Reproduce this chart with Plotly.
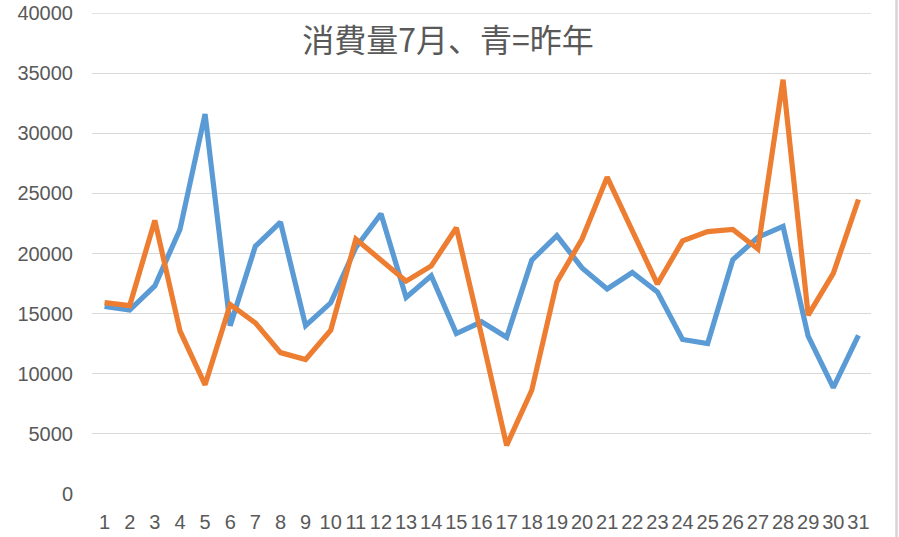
import plotly.graph_objects as go

days = list(range(1, 32))
tick_labels = [str(d) for d in days]

last_year = [15600, 15300, 17300, 22000, 31600, 14000, 20600, 22600, 14000, 15900,
             20500, 23300, 16350, 18150, 13340, 14320, 13040, 19450, 21480, 18800,
             17050, 18420, 16810, 12850, 12510, 19480, 21350, 22250, 13120, 8850, 13200]

this_year = [15920, 15670, 22750, 13560, 9080, 15760, 14230, 11760, 11180, 13620,
             21200, 19400, 17700, 18970, 22140, 13200, 4050, 8630, 17640, 21200,
             26350, 21900, 17460, 21050, 21820, 22000, 20380, 34450, 14870, 18340, 24490]

y_ticks = [0, 5000, 10000, 15000, 20000, 25000, 30000, 35000, 40000]

title_text = "消費量7月、青=昨年"

W, H = 899, 537

fig = go.Figure()
fig.add_trace(go.Scatter(x=days, y=last_year, mode="lines", name="昨年",
                         line=dict(color="#5B9BD5", width=5.2)))
fig.add_trace(go.Scatter(x=days, y=this_year, mode="lines", name="今年",
                         line=dict(color="#ED7D31", width=5.2)))

fig.update_layout(
    width=W, height=H,
    margin=dict(l=92, r=28, t=13, b=43, autoexpand=False),
    paper_bgcolor="white", plot_bgcolor="white",
    showlegend=False,
    title=dict(text=title_text, x=448 / W, xref="container", xanchor="center",
               y=1 - 41 / H, yref="container", yanchor="middle",
               font=dict(family="Noto Sans CJK JP", size=32, color="#595959")),
    font=dict(family="Liberation Sans", color="#595959"),
)

fig.update_xaxes(
    range=[0.5, 31.5], tickmode="array", tickvals=days, ticktext=tick_labels,
    showgrid=False, zeroline=False, showline=False, ticks="", automargin=False,
    tickfont=dict(family="Liberation Sans", size=20, color="#595959"),
    ticklabelstandoff=14, ticklabeloverflow="allow",
)
fig.update_yaxes(
    range=[0, 40000], tickmode="array", tickvals=y_ticks,
    ticktext=[str(v) for v in y_ticks],
    showgrid=True, gridcolor="#D9D9D9", gridwidth=1.3, automargin=False,
    zeroline=False, showline=False, ticks="",
    tickfont=dict(family="Liberation Sans", size=20, color="#595959"),
    ticklabelstandoff=18, ticklabeloverflow="allow",
)

# top gridline (drawn explicitly so it shows at the range edge)
fig.add_shape(type="line", xref="paper", yref="y", x0=0, x1=1, y0=40000, y1=40000,
              line=dict(color="#D9D9D9", width=1.3), layer="below")

# chart area border on the right edge
bx = (896.5 - 92) / 779
fig.add_shape(type="line", xref="paper", yref="paper",
              x0=bx, x1=bx, y0=-0.2, y1=1.1, line=dict(color="#D4D4D4", width=2.5))

fig.write_html("out.html",
               config={"displayModeBar": False},
               post_script="document.body.style.margin='0';document.body.style.overflow='hidden';")
